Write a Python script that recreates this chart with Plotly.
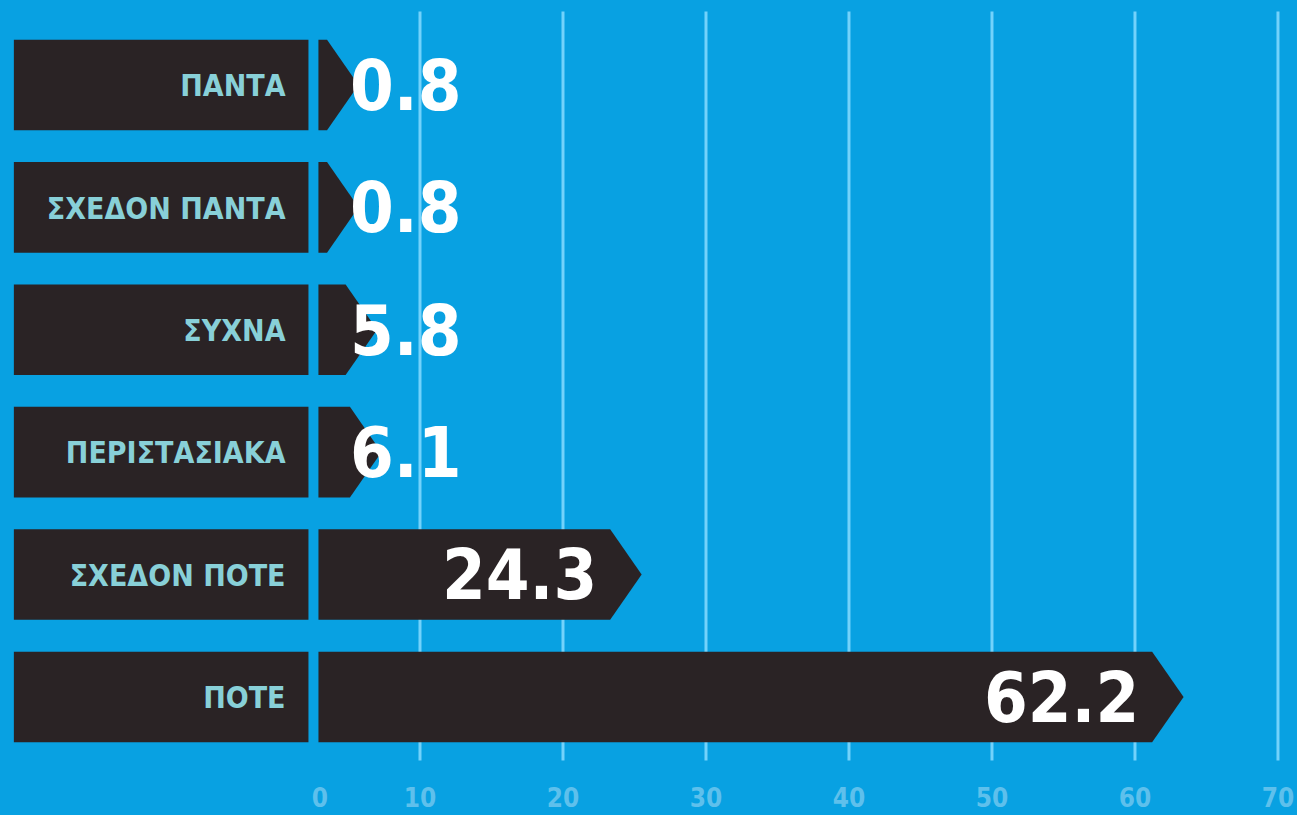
import plotly.graph_objects as go

# survey answers, top to bottom
categories = ["ΠΑΝΤΑ", "ΣΧΕΔΟΝ ΠΑΝΤΑ", "ΣΥΧΝΑ", "ΠΕΡΙΣΤΑΣΙΑΚΑ", "ΣΧΕΔΟΝ ΠΟΤΕ", "ΠΟΤΕ"]
values = [0.8, 0.8, 5.8, 6.1, 24.3, 62.2]
value_labels = ["0.8", "0.8", "5.8", "6.1", "24.3", "62.2"]

grid_values = [10, 20, 30, 40, 50, 60, 70]
tick_values = [3, 10, 20, 30, 40, 50, 60, 70]
tick_labels = ["0", "10", "20", "30", "40", "50", "60", "70"]

BG = "#08a1e2"
DARK = "#2a2325"
LABEL_COL = "#88d0d8"
GRID_COL = "#72d2fb"
TICK_COL = "#5ec0ec"
FONT = "Noto Sans ExtraCondensed, Noto Sans Condensed, DejaVu Sans Condensed, sans-serif"

HALF = 0.37      # half row height (y units)
BAR_START = 2.9  # bars start right of the label boxes
HEAD = 2.2       # arrow head length
BOX_L, BOX_R = -18.4, 2.2

fig = go.Figure()

# gridlines
for g in grid_values:
    fig.add_shape(type="line", x0=g, x1=g, y0=-0.6, y1=5.52, xref="x", yref="y",
                  line=dict(color=GRID_COL, width=3), layer="below")

for i, (cat, v, lab) in enumerate(zip(categories, values, value_labels)):
    # label box
    fig.add_shape(type="rect", x0=BOX_L, x1=BOX_R, y0=i - HALF, y1=i + HALF,
                  xref="x", yref="y", fillcolor=DARK, line_width=0, layer="below")
    # arrow bar
    tip = max(v + 1.2, 5.7)
    body = tip - HEAD
    fig.add_trace(go.Scatter(
        x=[BAR_START, body, tip, body, BAR_START, BAR_START],
        y=[i - HALF, i - HALF, i, i + HALF, i + HALF, i - HALF],
        fill="toself", fillcolor=DARK, mode="lines", line=dict(width=0),
        hoverinfo="skip", showlegend=False))

# category labels
fig.add_trace(go.Scatter(
    x=[0.6] * len(categories), y=[i + 0.03 for i in range(len(categories))],
    mode="text", text=categories, textposition="middle left",
    textfont=dict(family=FONT, size=30, color=LABEL_COL, weight="bold"),
    hoverinfo="skip", showlegend=False))

# value labels: inside the bar end for long bars, after the tip for short ones
for i, (v, lab) in enumerate(zip(values, value_labels)):
    tip = max(v + 1.2, 5.7)
    if v > 10:
        x, pos = tip - HEAD - 0.9, "middle left"
    else:
        x, pos = 5.1, "middle right"
    fig.add_trace(go.Scatter(
        x=[x], y=[i + 0.06], mode="text", text=[lab], textposition=pos,
        textfont=dict(family=FONT, size=70, color="white", weight="bold"),
        hoverinfo="skip", showlegend=False))

fig.update_layout(
    width=1297, height=815,
    margin=dict(l=0, r=0, t=0, b=45),
    paper_bgcolor=BG, plot_bgcolor=BG,
    xaxis=dict(range=[-19.37, 71.33], showgrid=False, zeroline=False,
               tickvals=tick_values, ticktext=tick_labels, ticks="",
               tickfont=dict(family=FONT, size=26, color=TICK_COL, weight="bold"),
               ticklabelstandoff=10, fixedrange=True),
    yaxis=dict(range=[5.597, -0.694], showgrid=False, zeroline=False,
               showticklabels=False, fixedrange=True),
)

fig.write_html("out.html", config={"displayModeBar": False},
               post_script="document.body.style.margin='0';")
